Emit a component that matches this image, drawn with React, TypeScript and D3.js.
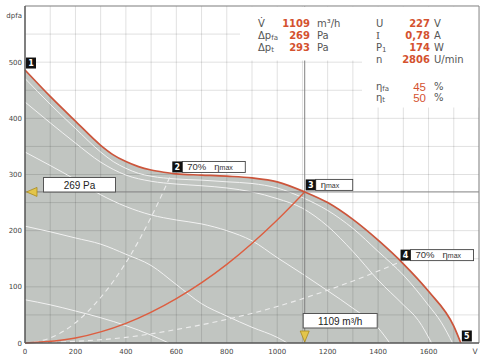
import React from 'react';
import * as d3 from 'd3';

const W = 500;
const H = 358;

const xTickValues = [0, 200, 400, 600, 800, 1000, 1200, 1400, 1600];
const yTickValues = [0, 100, 200, 300, 400, 500];
const xGridValues = [0, 100, 200, 300, 400, 500, 600, 700, 800, 900, 1000, 1100, 1200, 1300, 1400, 1500, 1600, 1700, 1800];
const yGridValues = [0, 50, 100, 150, 200, 250, 300, 350, 400, 450, 500, 550, 600];

// fan curve at full speed (red outline, filled)
const maxCurve: [number, number][] = [
  [0, 486], [100, 439], [200, 395], [300, 352], [350, 335], [400, 323], [450, 314], [500, 308],
  [550, 304], [600, 301], [700, 299], [800, 297], [900, 294], [1000, 287], [1109, 269], [1200, 250],
  [1300, 220], [1400, 183], [1500, 141], [1600, 92], [1700, 30], [1728, 0],
];
// reduced speed curves (white)
const speed1: [number, number][] = [
  [0, 471], [100, 425], [200, 382], [300, 340], [350, 323], [400, 311], [450, 302], [500, 297],
  [600, 292], [700, 290], [800, 287], [900, 284], [1000, 276], [1100, 259], [1200, 236],
  [1300, 204], [1400, 163], [1500, 121], [1600, 67], [1650, 37], [1695, 0],
];
const speed2: [number, number][] = [
  [0, 429], [100, 392], [200, 356], [300, 322], [400, 299], [500, 288], [600, 283], [700, 280],
  [800, 276], [900, 269], [1000, 257], [1100, 240], [1200, 208], [1300, 163], [1400, 112],
  [1500, 68], [1560, 40], [1612, 0],
];
const speed3: [number, number][] = [
  [0, 340], [100, 316], [200, 291], [300, 264], [400, 243], [500, 228], [600, 219], [700, 212],
  [800, 200], [900, 182], [1000, 152], [1100, 123], [1200, 93], [1300, 62], [1400, 27], [1446, 0],
];
const speed4: [number, number][] = [
  [0, 208], [100, 198], [200, 187], [300, 176], [400, 158], [500, 138], [600, 104],
  [700, 70], [800, 48], [900, 28], [1000, 10], [1040, 0],
];
const speed5: [number, number][] = [
  [0, 77], [100, 68], [200, 57], [300, 45], [400, 31], [500, 14], [570, 0],
];
const speedCurves = [speed1, speed2, speed3, speed4, speed5];

// 70% efficiency limits (dashed)
const eff70Left: [number, number][] = [
  [0, 0], [100, 9], [200, 36], [300, 81], [400, 143], [500, 224], [580, 301],
];
const eff70Right: [number, number][] = [
  [0, 0], [200, 3], [400, 10], [600, 24], [800, 42], [1000, 65], [1200, 94], [1400, 128], [1485, 144],
];
// system curve through operating point (red)
const systemCurve: [number, number][] = [
  [0, 0], [200, 9], [400, 35], [600, 79], [800, 140], [1000, 219], [1109, 269],
];

const opFlow = 1109;
const opPressure = 269;
const opFlowLabel = '1109 m³/h';
const opPressureLabel = '269 Pa';

const markerIds = ['1', '2', '3', '4', '5'];
const markerFlows = [0, 580, 1109, 1485, 1728];
const markerPressures = [486, 301, 269, 144, 0];
const markerTexts = ['', '70%', '', '70%', ''];

const leftLabels = ['V̇', 'Δp', 'Δp'];
const leftSubs = ['', 'fa', 't'];
const leftValues = ['1109', '269', '293'];
const leftUnits = ['m³/h', 'Pa', 'Pa'];

const rightLabels = ['U', 'I', 'P', 'n'];
const rightSubs = ['', '', '1', ''];
const rightValues = ['227', '0,78', '174', '2806'];
const rightUnits = ['V', 'A', 'W', 'U/min'];

const effLabels = ['η', 'η'];
const effSubs = ['fa', 't'];
const effValues = ['45', '50'];
const effUnits = ['%', '%'];

const FONT = 'DejaVu Sans, Verdana, sans-serif';
const AFONT = 'Liberation Sans, Arial, sans-serif';
const RED = '#d4522f';
const GREY_TXT = '#555';

export default function App() {
  const x = d3.scaleLinear().domain([0, 1800]).range([25, 479]);
  const y = d3.scaleLinear().domain([0, 600]).range([343, 6]);

  const line = d3
    .line<[number, number]>()
    .x((d) => x(d[0]))
    .y((d) => y(d[1]))
    .curve(d3.curveMonotoneX);
  const area = d3
    .area<[number, number]>()
    .x((d) => x(d[0]))
    .y0(y(0))
    .y1((d) => y(d[1]))
    .curve(d3.curveMonotoneX);

  const x0 = x(0), x1 = x(1800), yb = y(0), yt = y(600);
  const ox = x(opFlow), oy = y(opPressure);

  return (
    <svg
      width={W}
      height={H}
      viewBox={`0 0 ${W} ${H}`}
      style={{ position: 'absolute', left: 0, top: 0, background: '#fff' }}
    >
      <rect x={0} y={0} width={W} height={H} fill="#fff" />
      <path d={area(maxCurve) || ''} fill="#c1c5c1" />
      {xGridValues.map((v) => (
        <line key={'gx' + v} x1={x(v)} x2={x(v)} y1={yt} y2={yb} stroke="rgba(0,0,0,0.12)" strokeWidth={1} />
      ))}
      {yGridValues.map((v) => (
        <line key={'gy' + v} x1={x0} x2={x1} y1={y(v)} y2={y(v)} stroke="rgba(0,0,0,0.12)" strokeWidth={1} />
      ))}
      {speedCurves.map((c, i) => (
        <path key={'s' + i} d={line(c) || ''} fill="none" stroke="#f2f2f2" strokeWidth={1} />
      ))}
      {[eff70Left, eff70Right].map((c, i) => (
        <path key={'e' + i} d={line(c) || ''} fill="none" stroke="#ececec" strokeWidth={1.1} strokeDasharray="5,4" />
      ))}
      <path d={line(systemCurve) || ''} fill="none" stroke="#dd5e40" strokeWidth={1.4} />
      <line x1={x0} x2={x1} y1={oy} y2={oy} stroke="#808080" strokeWidth={1} />
      <line x1={ox} x2={ox} y1={yt} y2={yb} stroke="#808080" strokeWidth={1} />
      <path d={line(maxCurve) || ''} fill="none" stroke="#cc553b" strokeWidth={1.7} />

      <rect x={240} y={yt + 0.5} width={122} height={54} fill="#fff" />
      <rect x={362} y={yt + 0.5} width={x1 - 362} height={101} fill="#fff" />

      <line x1={x0} x2={x1} y1={yt} y2={yt} stroke="#8a8a8a" strokeWidth={1} />
      <line x1={x1} x2={x1} y1={yt} y2={yb} stroke="#8a8a8a" strokeWidth={1} />
      <line x1={x0} x2={x0} y1={yt} y2={yb} stroke="#5a5a5a" strokeWidth={1.5} />
      <line x1={x0} x2={x1} y1={yb} y2={yb} stroke="#5a5a5a" strokeWidth={1.5} />

      {yTickValues.map((v) => (
        <text key={'ty' + v} x={22} y={y(v) + 2.5} textAnchor="end" fontFamily={FONT} fontSize={7} fill="#444">
          {v}
        </text>
      ))}
      <text x={22} y={18} textAnchor="end" fontFamily={FONT} fontSize={7} fill="#444">
        dpfa
      </text>
      {xTickValues.map((v) => (
        <text key={'tx' + v} x={x(v)} y={354} textAnchor="middle" fontFamily={FONT} fontSize={7} fill="#444">
          {v}
        </text>
      ))}
      <text x={475} y={354} textAnchor="middle" fontFamily={FONT} fontSize={7.5} fill="#444">
        V
      </text>

      {leftLabels.map((l, i) => (
        <g key={'li' + i}>
          <text x={258} y={27 + i * 12} fontFamily={FONT} fontSize={10} fill={GREY_TXT}>
            {l}
            {leftSubs[i] && (
              <tspan fontSize={7} dy={1}>
                {leftSubs[i]}
              </tspan>
            )}
          </text>
          <text x={310} y={27 + i * 12} textAnchor="end" fontFamily={FONT} fontSize={10} fontWeight="bold" fill={RED}>
            {leftValues[i]}
          </text>
          <text x={317} y={27 + i * 12} fontFamily={FONT} fontSize={10} fill={GREY_TXT}>
            {leftUnits[i]}
          </text>
        </g>
      ))}
      {rightLabels.map((l, i) => (
        <g key={'ri' + i}>
          <text
            x={376}
            y={27 + i * 12}
            fontFamily={l === 'I' ? 'DejaVu Serif, serif' : FONT}
            fontSize={10}
            fill={GREY_TXT}
          >
            {l}
            {rightSubs[i] && (
              <tspan fontSize={7} dy={1}>
                {rightSubs[i]}
              </tspan>
            )}
          </text>
          <text x={430} y={27 + i * 12} textAnchor="end" fontFamily={FONT} fontSize={10} fontWeight="bold" fill={RED}>
            {rightValues[i]}
          </text>
          <text x={434} y={27 + i * 12} fontFamily={FONT} fontSize={10} fill={GREY_TXT}>
            {rightUnits[i]}
          </text>
        </g>
      ))}
      {effLabels.map((l, i) => (
        <g key={'ei' + i}>
          <text x={376} y={90 + i * 11} fontFamily={FONT} fontSize={10} fill={GREY_TXT}>
            {l}
            <tspan fontSize={7} dy={1}>
              {effSubs[i]}
            </tspan>
          </text>
          <text x={426} y={90.5 + i * 11} textAnchor="end" fontFamily={AFONT} fontSize={11.5} fill={RED}>
            {effValues[i]}
          </text>
          <text x={434} y={90 + i * 11} fontFamily={FONT} fontSize={10} fill={GREY_TXT}>
            {effUnits[i]}
          </text>
        </g>
      ))}

      <rect x={43.5} y={177.5} width={72} height={14.5} fill="#fff" stroke="#555" strokeWidth={1} />
      <text x={79.5} y={189} textAnchor="middle" fontFamily={AFONT} fontSize={10} fill="#222">
        {opPressureLabel}
      </text>
      <path
        d={`M${x0 + 1.5},${oy} L${x0 + 12},${oy - 4.5} L${x0 + 12},${oy + 4.5} Z`}
        fill="#e3c54a"
        stroke="#a88a20"
        strokeWidth={0.8}
      />
      <rect x={ox - 1.5} y={313.5} width={74} height={14.5} fill="#fff" stroke="#555" strokeWidth={1} />
      <text x={ox + 35.5} y={324.5} textAnchor="middle" fontFamily={AFONT} fontSize={10} fill="#222">
        {opFlowLabel}
      </text>
      <path
        d={`M${ox},${yb - 1} L${ox - 4.5},${yb - 12} L${ox + 4.5},${yb - 12} Z`}
        fill="#e3c54a"
        stroke="#a88a20"
        strokeWidth={0.8}
      />

      {markerIds.map((id, i) => {
        const px = x(markerFlows[i]) + 1;
        const py = y(markerPressures[i]) - 1.5;
        const txt = markerTexts[i];
        const isEta = i === 1 || i === 2 || i === 3;
        const boxW = txt ? 63 : 37;
        return (
          <g key={'m' + id}>
            {isEta && (
              <rect x={px + 10} y={py - 11} width={boxW} height={11} fill="#fff" stroke="#444" strokeWidth={0.9} />
            )}
            <rect x={px} y={py - 11} width={10} height={11} fill="#111" />
            <text x={px + 5} y={py - 2.5} textAnchor="middle" fontFamily={FONT} fontSize={8} fontWeight="bold" fill="#fff">
              {id}
            </text>
            {isEta && (
              <text y={py - 2.2} fontFamily={AFONT} fontSize={9.5} fill="#333">
                {txt && <tspan x={px + 15}>{txt}</tspan>}
                <tspan x={txt ? px + 42 : px + 15}>η</tspan>
                <tspan fontSize={7}>max</tspan>
              </text>
            )}
          </g>
        );
      })}
    </svg>
  );
}
